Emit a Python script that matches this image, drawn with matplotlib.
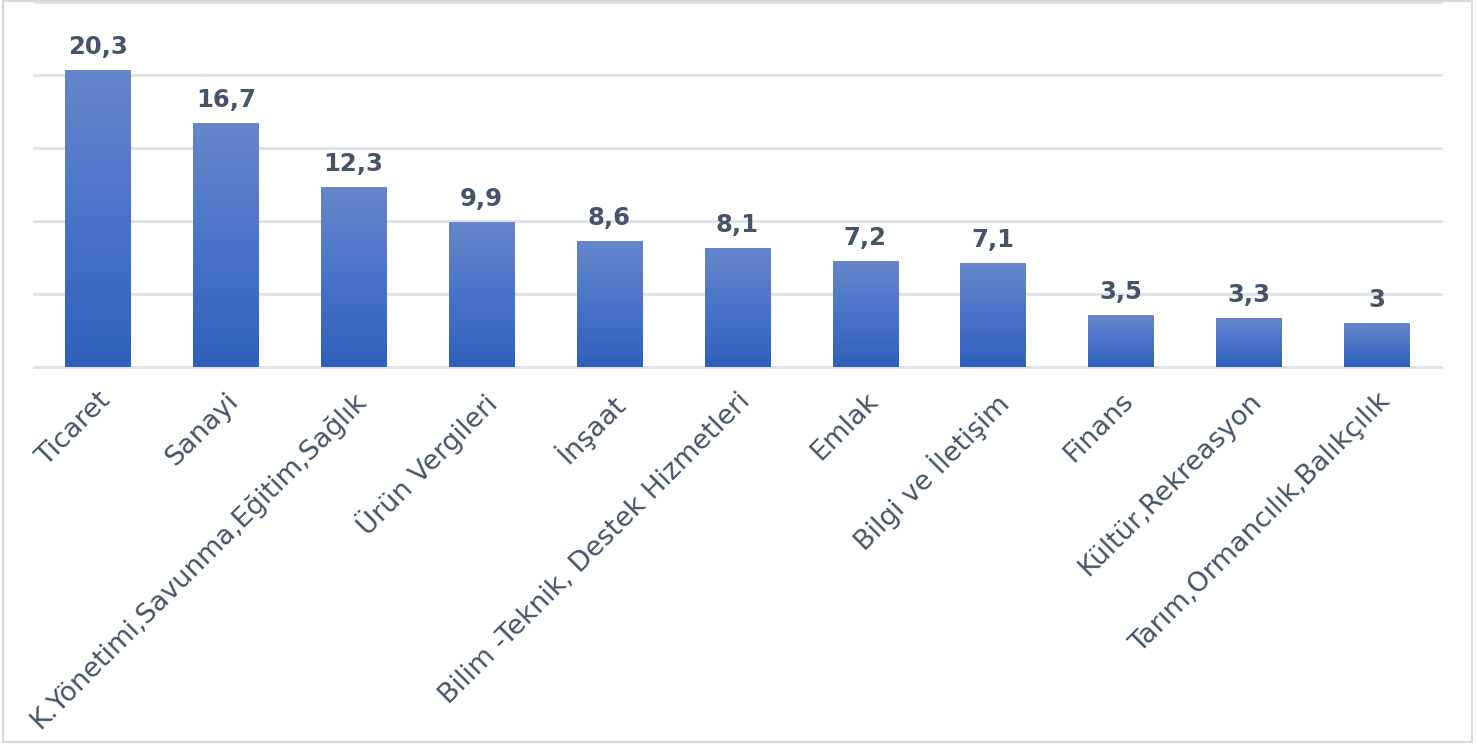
import numpy as np
import matplotlib.pyplot as plt
from matplotlib.colors import LinearSegmentedColormap
from matplotlib.patches import Rectangle

categories = ['Ticaret', 'Sanayi', 'K.Yönetimi,Savunma,Eğitim,Sağlık', 'Ürün Vergileri',
              'İnşaat', 'Bilim -Teknik, Destek Hizmetleri', 'Emlak', 'Bilgi ve İletişim',
              'Finans', 'Kültür,Rekreasyon', 'Tarım,Ormancılık,Balıkçılık']
values = [20.3, 16.7, 12.3, 9.9, 8.6, 8.1, 7.2, 7.1, 3.5, 3.3, 3]
value_labels = ['20,3', '16,7', '12,3', '9,9', '8,6', '8,1', '7,2', '7,1', '3,5', '3,3', '3']

text_color = '#44546a'
grad = LinearSegmentedColormap.from_list('bars', ['#2f61bb', '#4a73c8', '#6586cc'])

fig = plt.figure(figsize=(14.76, 7.45), dpi=100)
ax = fig.add_axes([0.023, 0.5074, 0.953, 0.4899])

x = np.arange(len(categories))
bars = ax.bar(x, values, width=0.51, color='none', zorder=3)

# gradient fill inside every bar
g = np.linspace(0, 1, 256).reshape(-1, 1)
for b in bars:
    x0, w, h = b.get_x(), b.get_width(), b.get_height()
    ax.imshow(g, cmap=grad, origin='lower', aspect='auto',
              extent=[x0, x0 + w, 0, h], zorder=3)

for xi, v, lab in zip(x, values, value_labels):
    ax.text(xi, v + 0.8, lab, ha='center', va='bottom', fontsize=17.5,
            fontweight='bold', color=text_color, zorder=4)

ax.set_xlim(-0.5, len(categories) - 0.5)
ax.set_ylim(0, 25)
ax.set_yticks([0, 5, 10, 15, 20, 25])
ax.yaxis.grid(True, color='#dde1e8', linewidth=2)
for gl in ax.get_ygridlines():
    gl.set_clip_on(False)
ax.set_axisbelow(True)
ax.tick_params(axis='y', left=False, labelleft=False)
ax.tick_params(axis='x', length=0, pad=15)
ax.set_xticks(x)
ax.set_xticklabels(categories, rotation=45, ha='right', rotation_mode='anchor',
                   fontsize=19.5, color=text_color)
for s in ax.spines.values():
    s.set_visible(False)

fig.patches.append(Rectangle((0.002, 0.004), 0.995, 0.995, transform=fig.transFigure,
                             fill=False, edgecolor='#d9d9d9', linewidth=1.5))

fig.savefig('out.png', dpi=100)
